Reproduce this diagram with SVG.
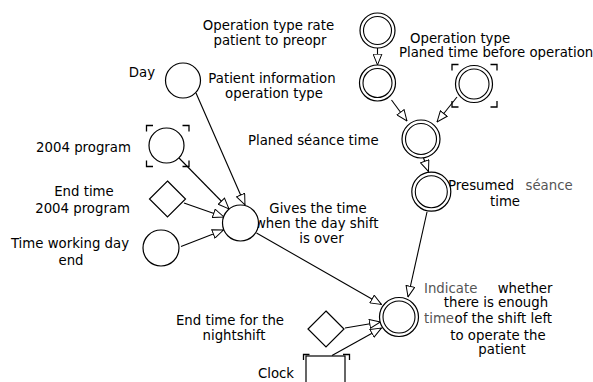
<svg xmlns="http://www.w3.org/2000/svg" width="593" height="382" viewBox="0 0 593 382">
  <style>
    .lbl { font-family: "DejaVu Sans", Verdana, sans-serif; font-size: 13.3px; fill: #000; }
    .mid { text-anchor: middle; }
    .dim { fill: #555; }
    .shape { fill: #fff; stroke: #000; stroke-width: 1.2; }
    .inner { fill: none; stroke: #000; stroke-width: 1.1; }
    .brk { fill: none; stroke: #000; stroke-width: 1.3; }
    .conn line { stroke: #000; stroke-width: 1.1; marker-end: url(#arr); }
  </style>
  <defs>
    <marker id="arr" viewBox="0 0 12 10" refX="11.5" refY="5" markerWidth="12" markerHeight="10" markerUnits="userSpaceOnUse" orient="auto">
      <path d="M0.6,0.6 L11.4,5 L0.6,9.4 z" fill="#fff" stroke="#000" stroke-width="1"/>
    </marker>
  </defs>
  <rect width="593" height="382" fill="#fff"/>

  <!-- connectors -->
  <g id="connectors" class="conn">
    <line x1="196" y1="93" x2="245" y2="205"/>
    <line x1="179" y1="158" x2="229" y2="209"/>
    <line x1="184" y1="203" x2="224" y2="217"/>
    <line x1="181" y1="246.5" x2="223.5" y2="230"/>
    <line x1="256.5" y1="233" x2="381.5" y2="304.5"/>
    <line x1="377.5" y1="48" x2="377.5" y2="65"/>
    <line x1="391.5" y1="100" x2="407" y2="121"/>
    <line x1="457" y1="97" x2="437" y2="122"/>
    <line x1="423.5" y1="158" x2="428.5" y2="171.5"/>
    <line x1="427" y1="212" x2="408" y2="297"/>
    <line x1="345" y1="328" x2="380.5" y2="322"/>
    <line x1="332" y1="355.5" x2="381.5" y2="328"/>
  </g>

  <!-- single-circle nodes -->
  <g id="day">
    <text class="lbl mid" x="142" y="77">Day</text>
    <circle class="shape" cx="183" cy="80.5" r="17.5"/>
  </g>
  <g id="program2004">
    <text class="lbl mid" x="83.5" y="152">2004 program</text>
    <path class="brk" d="M146.5,131.5 V125.5 H153 M182.5,125.5 H189 V131.5 M146.5,160.5 V166.5 H153 M182.5,166.5 H189 V160.5"/>
    <circle class="shape" cx="166.5" cy="145.5" r="17.5"/>
  </g>
  <g id="endTime2004">
    <text class="lbl mid" x="84" y="196">End time</text>
    <text class="lbl mid" x="82.6" y="213">2004 program</text>
    <path class="shape" d="M167.5,181 L185.5,199 L167.5,217 L149.5,199 z"/>
  </g>
  <g id="workingDayEnd">
    <text class="lbl mid" x="70" y="247.5">Time working day</text>
    <text class="lbl mid" x="71" y="264.5">end</text>
    <circle class="shape" cx="161" cy="248" r="18"/>
  </g>
  <g id="dayShiftOver">
    <text class="lbl mid" x="318" y="213.3">Gives the time</text>
    <text class="lbl mid" x="316.7" y="228.3">when the day shift</text>
    <text class="lbl mid" x="321.5" y="243.3">is over</text>
    <circle class="shape" cx="240.5" cy="223" r="18"/>
  </g>

  <!-- double-circle nodes -->
  <g id="rateToPreop">
    <text class="lbl mid" x="268.5" y="30">Operation type rate</text>
    <text class="lbl mid" x="270" y="45">patient to preopr</text>
    <circle class="shape" cx="377.5" cy="30.5" r="17.5"/>
    <circle class="inner" cx="377.5" cy="30.5" r="14"/>
  </g>
  <g id="patientInfo">
    <text class="lbl mid" x="272" y="83">Patient information</text>
    <text class="lbl mid" x="274" y="98">operation type</text>
    <circle class="shape" cx="377.5" cy="83" r="18"/>
    <circle class="inner" cx="377.5" cy="83" r="14.5"/>
  </g>
  <g id="plannedBefore">
    <text class="lbl" x="410" y="42.7">Operation type</text>
    <text class="lbl" x="399" y="57.3">Planed time before operation</text>
    <path class="brk" d="M452,70.5 V64.5 H458.5 M490.5,64.5 H497 V70.5 M452,101 V107 H458.5 M490.5,107 H497 V101"/>
    <circle class="shape" cx="474" cy="84" r="18.5"/>
    <circle class="inner" cx="474" cy="84" r="15"/>
  </g>
  <g id="seanceTime">
    <text class="lbl" x="248" y="145">Planed séance time</text>
    <circle class="shape" cx="421" cy="139" r="19"/>
    <circle class="inner" cx="421" cy="139" r="15.5"/>
  </g>
  <g id="presumedSeance">
    <text class="lbl" x="448" y="190"><tspan>Presumed</tspan><tspan class="dim" x="525.5">séance</tspan></text>
    <text class="lbl" x="490" y="205.5">time</text>
    <circle class="shape" cx="431.3" cy="191.7" r="19.5"/>
    <circle class="inner" cx="431.3" cy="191.7" r="16"/>
  </g>
  <g id="enoughTime">
    <text class="lbl" x="424" y="292.7"><tspan class="dim">Indicate</tspan><tspan x="497.7">whether</tspan></text>
    <text class="lbl mid" x="496" y="307">there is enough</text>
    <text class="lbl" x="424" y="323.3"><tspan class="dim">time</tspan><tspan x="454.5">of the shift left</tspan></text>
    <text class="lbl mid" x="498" y="339.5">to operate the</text>
    <text class="lbl mid" x="502" y="354">patient</text>
    <circle class="shape" cx="399" cy="317" r="19.5"/>
    <circle class="inner" cx="399" cy="317" r="16"/>
  </g>

  <!-- inputs to the final check -->
  <g id="nightShiftEnd">
    <text class="lbl mid" x="230" y="325">End time for the</text>
    <text class="lbl mid" x="234" y="340">nightshift</text>
    <path class="shape" d="M326,311 L344,329 L326,347 L308,329 z"/>
  </g>
  <g id="clock">
    <text class="lbl mid" x="276" y="378">Clock</text>
    <path class="brk" d="M303.5,360 V354.5 H309.5 M343,354.5 H349.5 V360"/>
    <rect class="shape" x="306" y="356" width="39" height="40"/>
  </g>
</svg>
